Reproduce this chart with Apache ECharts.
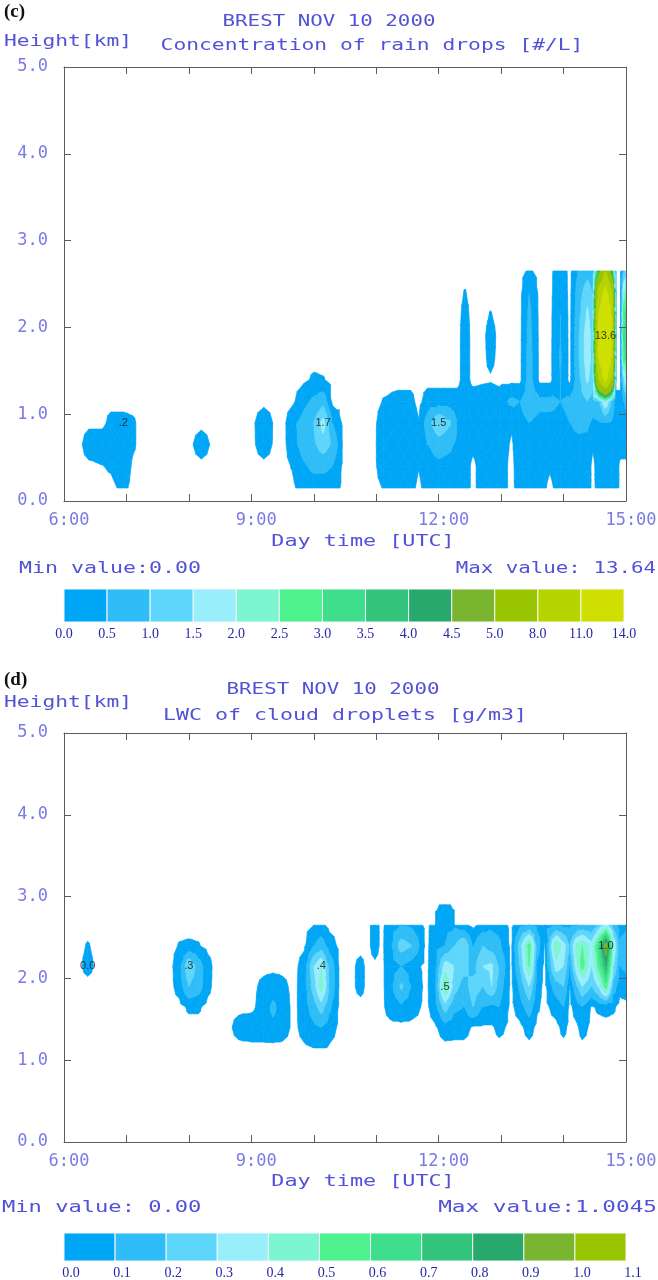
<!DOCTYPE html>
<html>
<head>
<meta charset="utf-8">
<script src="https://cdn.jsdelivr.net/npm/echarts@6/dist/echarts.min.js"></script>
<style>
  html, body { margin: 0; padding: 0; background: #ffffff; }
  #chart { width: 658px; height: 1280px; }
</style>
</head>
<body>
<div id="chart"></div>
<script>
// ---------------------------------------------------------------
// Shading classes (colour bar edges) and their colours
// ---------------------------------------------------------------
const shadeColors = ['#00a6f6', '#2fbdf7', '#5ed5fa', '#98eefb', '#7df5cf', '#4df28f',
                     '#3ede8c', '#34c57d', '#27a86c', '#7ab52f', '#99c400', '#b5d400', '#cfe000'];
const rainEdges = [0.0, 0.5, 1.0, 1.5, 2.0, 2.5, 3.0, 3.5, 4.0, 4.5, 5.0, 8.0, 11.0, 14.0];
const lwcEdges  = [0.0, 0.1, 0.2, 0.3, 0.4, 0.5, 0.6, 0.7, 0.8, 0.9, 1.0, 1.1];
// smallest value that gets shaded
const rainShadeFrom = 0.1;
const lwcShadeFrom = 0.02;

// ---------------------------------------------------------------
// Rain drop concentration [#/L]: one vertical profile per time (UTC hours)
// ---------------------------------------------------------------
const rainHeights = [0.15, 0.40, 0.65, 0.90, 1.15, 1.40, 1.65, 1.90, 2.15, 2.40, 2.65];
const rainTimes = [
  6.00, 6.25, 6.40, 6.60, 6.75, 6.95, 7.10, 7.25,
  8.00, 8.20, 8.40,
  9.00, 9.20, 9.40,
  9.52, 9.65, 9.80, 10.00, 10.15, 10.30, 10.48,
  10.95, 11.12, 11.35, 11.55, 11.68,
  11.82, 12.00, 12.17, 12.30, 12.42, 12.55, 12.70, 12.83, 12.97,
  13.17, 13.30, 13.45, 13.62, 13.78, 13.95, 14.10,
  14.25, 14.38, 14.47, 14.56, 14.67, 14.77, 14.84, 14.91, 14.96, 15.00
];
const rainProfiles = [
  [0, 0, 0, 0, 0, 0, 0, 0, 0, 0, 0],
  [0, 0, 0, 0, 0, 0, 0, 0, 0, 0, 0],
  [0, 0, 0.35, 0, 0, 0, 0, 0, 0, 0, 0],
  [0, 0.08, 0.35, 0, 0, 0, 0, 0, 0, 0, 0],
  [0, 0.15, 0.35, 0.2, 0, 0, 0, 0, 0, 0, 0],
  [0.2, 0.35, 0.35, 0.2, 0, 0, 0, 0, 0, 0, 0],
  [0, 0.05, 0.15, 0.15, 0, 0, 0, 0, 0, 0, 0],
  [0, 0, 0, 0, 0, 0, 0, 0, 0, 0, 0],

  [0, 0, 0, 0, 0, 0, 0, 0, 0, 0, 0],
  [0, 0, 0.3, 0, 0, 0, 0, 0, 0, 0, 0],
  [0, 0, 0, 0, 0, 0, 0, 0, 0, 0, 0],

  [0, 0, 0, 0, 0, 0, 0, 0, 0, 0, 0],
  [0, 0, 0.3, 0.35, 0, 0, 0, 0, 0, 0, 0],
  [0, 0, 0, 0, 0, 0, 0, 0, 0, 0, 0],

  [0, 0, 0, 0, 0, 0, 0, 0, 0, 0, 0],
  [0, 0.12, 0.35, 0.4, 0, 0, 0, 0, 0, 0, 0],
  [0.25, 0.4, 0.6, 0.6, 0.3, 0, 0, 0, 0, 0, 0],
  [0.3, 0.6, 0.9, 1.0, 0.6, 0.15, 0, 0, 0, 0, 0],
  [0.3, 0.6, 1.3, 1.7, 0.8, 0.12, 0, 0, 0, 0, 0],
  [0.3, 0.5, 0.9, 0.5, 0, 0, 0, 0, 0, 0, 0],
  [0, 0, 0, 0, 0, 0, 0, 0, 0, 0, 0],

  [0, 0, 0, 0, 0, 0, 0, 0, 0, 0, 0],
  [0.12, 0.3, 0.35, 0.3, 0.12, 0, 0, 0, 0, 0, 0],
  [0.3, 0.35, 0.4, 0.35, 0.2, 0, 0, 0, 0, 0, 0],
  [0.25, 0.35, 0.35, 0.35, 0.2, 0, 0, 0, 0, 0, 0],
  [0, 0.12, 0.15, 0.12, 0, 0, 0, 0, 0, 0, 0],

  [0.3, 0.35, 0.5, 0.7, 0.25, 0, 0, 0, 0, 0, 0],
  [0.3, 0.4, 0.7, 1.5, 0.25, 0, 0, 0, 0, 0, 0],
  [0.3, 0.35, 0.6, 1.1, 0.25, 0, 0, 0, 0, 0, 0],
  [0.3, 0.3, 0.4, 0.5, 0.25, 0, 0, 0, 0, 0, 0],
  [0.3, 0.3, 0.35, 0.35, 0.3, 0.25, 0.25, 0.25, 0.2, 0.12, 0],
  [0, 0, 0.2, 0.35, 0.3, 0, 0, 0, 0, 0, 0],
  [0.3, 0.3, 0.35, 0.35, 0.3, 0.04, 0, 0, 0, 0, 0],
  [0.3, 0.35, 0.35, 0.3, 0.35, 0.06, 0.2, 0.25, 0.12, 0, 0],
  [0.3, 0.3, 0.3, 0.35, 0.3, 0, 0, 0, 0, 0, 0],

  [0, 0, 0.05, 0.15, 0.6, 0, 0, 0, 0, 0, 0],
  [0.3, 0.35, 0.35, 0.4, 0.5, 0, 0, 0, 0, 0, 0],
  [0.3, 0.35, 0.4, 0.5, 0.7, 0.7, 0.7, 0.65, 0.6, 0.5, 0.15],
  [0.3, 0.3, 0.35, 0.4, 0.6, 0, 0, 0, 0, 0, 0],
  [0, 0.15, 0.35, 0.4, 0.6, 0, 0, 0, 0, 0, 0],
  [0.3, 0.35, 0.35, 0.4, 0.5, 0.5, 0.55, 0.5, 0.5, 0.4, 0.35],
  [0.3, 0.35, 0.4, 0.5, 0.6, 0, 0, 0, 0, 0, 0],

  [0.3, 0.35, 0.4, 0.6, 0.8, 0.9, 1.0, 1.0, 0.9, 0.8, 0.6],
  [0.3, 0.3, 0.35, 0.6, 1.0, 1.6, 1.8, 1.8, 1.6, 1.3, 0.8],
  [0, 0, 0.15, 0.4, 0.8, 1.2, 1.3, 1.3, 1.2, 1.0, 0.7],
  [0.25, 0.3, 0.35, 0.45, 1.0, 8.0, 11.0, 11.5, 11.0, 9.0, 4.0],
  [0.3, 0.35, 0.4, 0.5, 2.0, 12.0, 13.2, 13.64, 13.3, 12.0, 8.0],
  [0.3, 0.3, 0.35, 0.45, 1.0, 8.0, 11.0, 11.5, 11.0, 9.0, 4.0],
  [0.3, 0.3, 0.3, 0.3, 0.2, 0, 0, 0, 0, 0, 0],
  [0, 0, 0.3, 0.3, 0.2, 0, 0, 0, 0, 0, 0],
  [0, 0, 0.3, 0.35, 0.5, 1.2, 2.8, 3.0, 2.8, 2.0, 0.9],
  [0, 0, 0.3, 0.4, 0.6, 2.0, 3.2, 3.4, 3.2, 2.5, 1.2]
];
// contour labels: [time, height] of the labelled grid points
const rainLabelPoints = [[6.95, 0.90], [10.15, 0.90], [12.00, 0.90], [14.67, 1.90]];

// ---------------------------------------------------------------
// Liquid water content of cloud droplets [g/m3]
// (null = above the top of the data at that time)
// ---------------------------------------------------------------
const lwcHeights = [1.15, 1.40, 1.65, 1.90, 2.15, 2.40, 2.65, 2.90];
const lwcTimes = [
  6.00, 6.20, 6.38, 6.56,
  7.70, 7.85, 8.00, 8.15, 8.30, 8.42,
  8.62, 8.80, 9.00, 9.20, 9.35, 9.50, 9.68,
  9.85, 10.00, 10.12, 10.25, 10.42,
  10.58, 10.75, 10.87, 10.98, 11.08,
  11.22, 11.40, 11.58, 11.80,
  11.95, 12.10, 12.25, 12.40, 12.55, 12.70, 12.85, 12.97, 13.16,
  13.30, 13.45, 13.58, 13.70, 13.88, 14.00, 14.10,
  14.22, 14.30, 14.45, 14.55, 14.68, 14.80, 14.90, 15.00
];
const lwcProfiles = [
  [0, 0, 0, 0, 0, 0, 0, null],
  [0, 0, 0, 0, 0, 0, 0, null],
  [0, 0, 0, 0, 0.04, 0.025, 0, null],
  [0, 0, 0, 0, 0, 0, 0, null],

  [0, 0, 0, 0, 0, 0, 0, null],
  [0, 0, 0, 0.05, 0.07, 0.025, 0, null],
  [0, 0, 0.03, 0.2, 0.3, 0.03, 0, null],
  [0, 0, 0.03, 0.15, 0.15, 0.025, 0, null],
  [0, 0, 0, 0.04, 0.05, 0, 0, null],
  [0, 0, 0, 0, 0, 0, 0, null],

  [0, 0, 0, 0, 0, 0, 0, null],
  [0, 0.05, 0, 0, 0, 0, 0, null],
  [0, 0.07, 0, 0, 0, 0, 0, null],
  [0, 0.07, 0.06, 0.04, 0, 0, 0, null],
  [0, 0.08, 0.12, 0.06, 0, 0, 0, null],
  [0, 0.06, 0.06, 0.04, 0, 0, 0, null],
  [0, 0, 0, 0, 0, 0, 0, null],

  [0.01, 0.05, 0.06, 0.06, 0.05, 0.01, 0, null],
  [0.02, 0.08, 0.15, 0.25, 0.3, 0.1, 0.02, null],
  [0.04, 0.1, 0.25, 0.45, 0.4, 0.15, 0.04, null],
  [0.01, 0.06, 0.12, 0.2, 0.18, 0.06, 0, null],
  [0, 0, 0, 0, 0, 0, 0, null],

  [0, 0, 0, 0, 0, 0, 0, null],
  [0, 0, 0, 0.04, 0.04, 0, 0, null],
  [0, 0, 0, 0, 0, 0, 0, null],
  [0, 0, 0, 0, 0, 0.06, 0.06, null],
  [0, 0, 0, 0, 0, 0, 0, null],

  [0, 0, 0.05, 0.06, 0.06, 0.07, 0.06, null],
  [0, 0, 0.08, 0.22, 0.1, 0.25, 0.1, null],
  [0, 0, 0.05, 0.08, 0.05, 0.2, 0.08, null],
  [0, 0, 0, 0, 0, 0, 0, null],

  [0, 0.01, 0.07, 0.1, 0.08, 0.07, 0.06, 0],
  [0, 0.06, 0.25, 0.52, 0.35, 0.1, 0.07, 0.05],
  [0, 0.05, 0.12, 0.25, 0.3, 0.2, 0.08, 0],
  [0, 0.05, 0.1, 0.15, 0.25, 0.3, 0.04, null],
  [0, 0.01, 0.2, 0.25, 0.15, 0.1, 0, null],
  [0, 0.01, 0.1, 0.2, 0.3, 0.2, 0.05, null],
  [0, 0.01, 0.08, 0.3, 0.32, 0.15, 0.08, null],
  [0, 0.04, 0.1, 0.15, 0.2, 0.12, 0.07, null],
  [0, 0, 0, 0, 0, 0, 0, null],

  [0, 0, 0.06, 0.12, 0.2, 0.25, 0.08, null],
  [0, 0.05, 0.15, 0.3, 0.5, 0.55, 0.1, null],
  [0, 0, 0.03, 0.05, 0.08, 0.15, 0.08, null],
  [0, 0, 0, 0, 0, 0.01, 0.06, null],
  [0, 0, 0.05, 0.15, 0.35, 0.5, 0.1, null],
  [0, 0.04, 0.1, 0.2, 0.3, 0.35, 0.08, null],
  [0, 0, 0, 0.01, 0.1, 0.2, 0.08, null],

  [0, 0.01, 0.06, 0.2, 0.4, 0.45, 0.1, null],
  [0, 0.05, 0.1, 0.3, 0.55, 0.5, 0.12, null],
  [0, 0, 0.01, 0.2, 0.3, 0.35, 0.1, null],
  [0, 0, 0.03, 0.3, 0.5, 0.6, 0.2, null],
  [0, 0, 0.04, 0.55, 0.8, 1.0045, 0.35, null],
  [0, 0, 0.03, 0.15, 0.3, 0.4, 0.15, null],
  [0, 0, 0, 0.04, 0.1, 0.12, 0.06, null],
  [0, 0, 0, 0.06, 0.12, 0.15, 0.08, null]
];
const lwcLabelPoints = [[6.38, 2.15], [8.00, 2.15], [10.12, 2.15], [12.10, 1.90], [14.68, 2.40]];

// axis ticks
const timeTicks = [6, 7, 8, 9, 10, 11, 12, 13, 14, 15];
const heightTicks = [0, 1, 2, 3, 4, 5];

// ---------------------------------------------------------------
// helpers
// ---------------------------------------------------------------
const TITLE_COLOR = '#5252d6';
const AXIS_TEXT = '#7b7be4';
const FRAME = '#5c5c5c';
const MONO = '"DejaVu Sans Mono", "Liberation Mono", monospace';

function field(times, heights, profiles, edges, shadeFrom) {
  return { times, heights, profiles, edges, shadeFrom };
}
const rainField = field(rainTimes, rainHeights, rainProfiles, rainEdges, rainShadeFrom);
const lwcField = field(lwcTimes, lwcHeights, lwcProfiles, lwcEdges, lwcShadeFrom);

function gridCells(f) {
  const cells = [];
  for (let i = 0; i < f.times.length - 1; i++) {
    for (let j = 0; j < f.heights.length - 1; j++) {
      const v = [f.profiles[i][j], f.profiles[i + 1][j], f.profiles[i + 1][j + 1], f.profiles[i][j + 1]];
      if (v.some(x => x == null)) continue;
      if (Math.max.apply(null, v) < f.shadeFrom) continue;
      cells.push([(f.times[i] + f.times[i + 1]) / 2, (f.heights[j] + f.heights[j + 1]) / 2, i, j]);
    }
  }
  return cells;
}

// clip a polygon of [t, z, value] vertices to value >= level (keepAbove) or value <= level
function clipLevel(poly, level, keepAbove) {
  const out = [];
  const inside = p => keepAbove ? p[2] >= level : p[2] <= level;
  for (let k = 0; k < poly.length; k++) {
    const P = poly[k], Q = poly[(k + 1) % poly.length];
    const pin = inside(P), qin = inside(Q);
    if (pin) out.push(P);
    if (pin !== qin) {
      const s = (level - P[2]) / (Q[2] - P[2]);
      out.push([P[0] + s * (Q[0] - P[0]), P[1] + s * (Q[1] - P[1]), level]);
    }
  }
  return out;
}

// filled contour bands inside one grid cell (4 triangles around the cell centre)
function cellBands(f, i, j) {
  const T = f.times, Z = f.heights, V = f.profiles;
  const c = [
    [T[i], Z[j], V[i][j]], [T[i + 1], Z[j], V[i + 1][j]],
    [T[i + 1], Z[j + 1], V[i + 1][j + 1]], [T[i], Z[j + 1], V[i][j + 1]]
  ];
  const mid = [(T[i] + T[i + 1]) / 2, (Z[j] + Z[j + 1]) / 2, (c[0][2] + c[1][2] + c[2][2] + c[3][2]) / 4];
  const out = [];
  const nb = f.edges.length - 1;
  for (let k = 0; k < 4; k++) {
    const tri = [c[k], c[(k + 1) % 4], mid];
    for (let b = 0; b < nb; b++) {
      const lo = b === 0 ? f.shadeFrom : f.edges[b];
      const hi = b === nb - 1 ? Infinity : f.edges[b + 1];
      let poly = clipLevel(tri, lo, true);
      if (poly.length >= 3 && hi !== Infinity) poly = clipLevel(poly, hi, false);
      if (poly.length >= 3) out.push({ band: b, pts: poly });
    }
  }
  return out;
}

function contourSeries(f, axisIdx) {
  return {
    type: 'custom',
    xAxisIndex: axisIdx, yAxisIndex: axisIdx,
    clip: true,
    silent: true,
    z: 2,
    data: gridCells(f),
    encode: { x: 0, y: 1 },
    renderItem: function (params, api) {
      const bands = cellBands(f, api.value(2), api.value(3));
      return {
        type: 'group',
        children: bands.map(b => ({
          type: 'polygon',
          shape: { points: b.pts.map(p => api.coord([p[0], p[1]])) },
          style: { fill: shadeColors[b.band], stroke: shadeColors[b.band], lineWidth: 0.7 }
        }))
      };
    }
  };
}

function labelText(v) {
  let s = v.toFixed(1);
  if (s.indexOf('0.') === 0 && s !== '0.0') s = s.slice(1);
  return s;
}

function valueAt(f, t, z) {
  const i = f.times.findIndex(x => Math.abs(x - t) < 1e-6);
  const j = f.heights.findIndex(x => Math.abs(x - z) < 1e-6);
  return f.profiles[i][j];
}

function labelSeries(f, points, axisIdx) {
  return {
    type: 'scatter',
    xAxisIndex: axisIdx, yAxisIndex: axisIdx,
    symbol: 'circle', symbolSize: 1,
    itemStyle: { color: 'rgba(0,0,0,0)' },
    silent: true,
    z: 5,
    data: points.map(p => [p[0], p[1], valueAt(f, p[0], p[1])]),
    label: {
      show: true, position: 'inside',
      formatter: p => labelText(p.value[2]),
      color: '#111111', fontSize: 11, fontFamily: '"Liberation Sans", Arial, sans-serif'
    }
  };
}

function maxOf(f) {
  let m = -Infinity;
  f.profiles.forEach(col => col.forEach(v => { if (v != null && v > m) m = v; }));
  return m;
}
function minOf(f) {
  let m = Infinity;
  f.profiles.forEach(col => col.forEach(v => { if (v != null && v < m) m = v; }));
  return m;
}

function colorBarSeries(edges, axisIdx) {
  const data = [];
  for (let k = 0; k < edges.length - 1; k++) data.push([k + 0.5, 0.5, k]);
  return {
    type: 'custom',
    xAxisIndex: axisIdx, yAxisIndex: axisIdx,
    silent: true,
    data: data,
    encode: { x: 0, y: 1 },
    renderItem: function (params, api) {
      const k = api.value(2);
      const p0 = api.coord([k, 1]);
      const p1 = api.coord([k + 1, 0]);
      return {
        type: 'rect',
        shape: { x: p0[0], y: p0[1], width: p1[0] - p0[0], height: p1[1] - p0[1] },
        style: { fill: shadeColors[k], stroke: '#f4f8fb', lineWidth: 1 }
      };
    }
  };
}

// stretched monospace caption
function caption(str, x, y, align, scaleX, color, font) {
  return {
    type: 'text', x: x, y: y, scaleX: scaleX, scaleY: 1, silent: true, z: 10,
    style: {
      text: str, fill: color || TITLE_COLOR, font: font || ('16px ' + MONO),
      align: align, textAlign: align, verticalAlign: 'middle', textVerticalAlign: 'middle'
    }
  };
}

// ---------------------------------------------------------------
// axes
// ---------------------------------------------------------------
function timeAxis(gridIndex, position, withLabels) {
  return {
    type: 'value', gridIndex: gridIndex, position: position,
    min: timeTicks[0], max: timeTicks[timeTicks.length - 1], interval: 1,
    z: 6,
    axisLine: { show: true, onZero: false, lineStyle: { color: FRAME, width: 1 } },
    axisTick: { show: true, inside: true, length: 7, lineStyle: { color: FRAME, width: 1 } },
    splitLine: { show: false },
    axisLabel: withLabels ? {
      show: true, margin: 11, color: AXIS_TEXT, fontFamily: MONO, fontSize: 17,
      hideOverlap: false, showMinLabel: true, showMaxLabel: true,
      padding: [0, 0, 0, 10],
      formatter: v => (v % 3 === 0 ? v + ':00' : '')
    } : { show: false }
  };
}
function heightAxis(gridIndex, position, withLabels) {
  return {
    type: 'value', gridIndex: gridIndex, position: position,
    min: heightTicks[0], max: heightTicks[heightTicks.length - 1], interval: 1,
    z: 6,
    axisLine: { show: true, onZero: false, lineStyle: { color: FRAME, width: 1 } },
    axisTick: { show: true, inside: true, length: 7, lineStyle: { color: FRAME, width: 1 } },
    splitLine: { show: false },
    axisLabel: withLabels ? {
      show: true, margin: 16, color: AXIS_TEXT, fontFamily: MONO, fontSize: 17,
      showMinLabel: true, showMaxLabel: true,
      formatter: v => v.toFixed(1)
    } : { show: false }
  };
}
function barAxisX(gridIndex, edges, shift) {
  return {
    type: 'value', gridIndex: gridIndex, min: 0, max: edges.length - 1, interval: 1,
    axisLine: { show: false }, axisTick: { show: false }, splitLine: { show: false },
    axisLabel: {
      show: true, margin: 5, color: '#2626a8', fontSize: 14,
      fontFamily: '"Liberation Serif", "Times New Roman", serif',
      hideOverlap: false, showMinLabel: true, showMaxLabel: true,
      padding: [0, 0, 0, shift],
      formatter: v => edges[Math.round(v)].toFixed(1)
    }
  };
}
function barAxisY(gridIndex) {
  return { type: 'value', gridIndex: gridIndex, min: 0, max: 1, show: false };
}

const chart = echarts.init(document.getElementById('chart'), null, { renderer: 'canvas' });

const rainMax = maxOf(rainField), rainMin = minOf(rainField);
const lwcMax = maxOf(lwcField), lwcMin = minOf(lwcField);

chart.setOption({
  backgroundColor: '#ffffff',
  animation: false,
  grid: [
    { left: 64, top: 67, width: 562, height: 434, containLabel: false, outerBoundsMode: 'none' },
    { left: 64, top: 589, width: 560, height: 33, containLabel: false, outerBoundsMode: 'none' },
    { left: 64, top: 733, width: 562, height: 409, containLabel: false, outerBoundsMode: 'none' },
    { left: 64, top: 1233, width: 562, height: 28, containLabel: false, outerBoundsMode: 'none' }
  ],
  xAxis: [
    timeAxis(0, 'bottom', true),
    timeAxis(0, 'top', false),
    barAxisX(1, rainEdges, 0),
    timeAxis(2, 'bottom', true),
    timeAxis(2, 'top', false),
    barAxisX(3, lwcEdges, 14)
  ],
  yAxis: [
    heightAxis(0, 'left', true),
    heightAxis(0, 'right', false),
    barAxisY(1),
    heightAxis(2, 'left', true),
    heightAxis(2, 'right', false),
    barAxisY(3)
  ],
  series: [
    contourSeries(rainField, 0),
    labelSeries(rainField, rainLabelPoints, 0),
    colorBarSeries(rainEdges, 2),
    contourSeries(lwcField, 3),
    labelSeries(lwcField, lwcLabelPoints, 3),
    colorBarSeries(lwcEdges, 5)
  ],
  graphic: [
    caption('(c)', 4, 12, 'left', 1, '#111111', 'bold 19px "Liberation Serif", "Times New Roman", serif'),
    caption('BREST NOV 10 2000', 329, 22, 'center', 1.3),
    caption('Height[km]', 4, 42, 'left', 1.33),
    caption('Concentration of rain drops [#/L]', 372, 46, 'center', 1.33),
    caption('Day time [UTC]', 363, 542, 'center', 1.36),
    caption('Min value:' + rainMin.toFixed(2), 19, 569, 'left', 1.35),
    caption('Max value: ' + rainMax.toFixed(2), 656, 569, 'right', 1.3),

    caption('(d)', 4, 680, 'left', 1, '#111111', 'bold 19px "Liberation Serif", "Times New Roman", serif'),
    caption('BREST NOV 10 2000', 333, 690, 'center', 1.3),
    caption('Height[km]', 4, 703, 'left', 1.33),
    caption('LWC of cloud droplets [g/m3]', 345, 716, 'center', 1.35),
    caption('Day time [UTC]', 363, 1182, 'center', 1.36),
    caption('Min value: ' + lwcMin.toFixed(2), 2, 1208, 'left', 1.38),
    caption('Max value:' + lwcMax.toFixed(4), 657, 1208, 'right', 1.42)
  ]
});
</script>
</body>
</html>
